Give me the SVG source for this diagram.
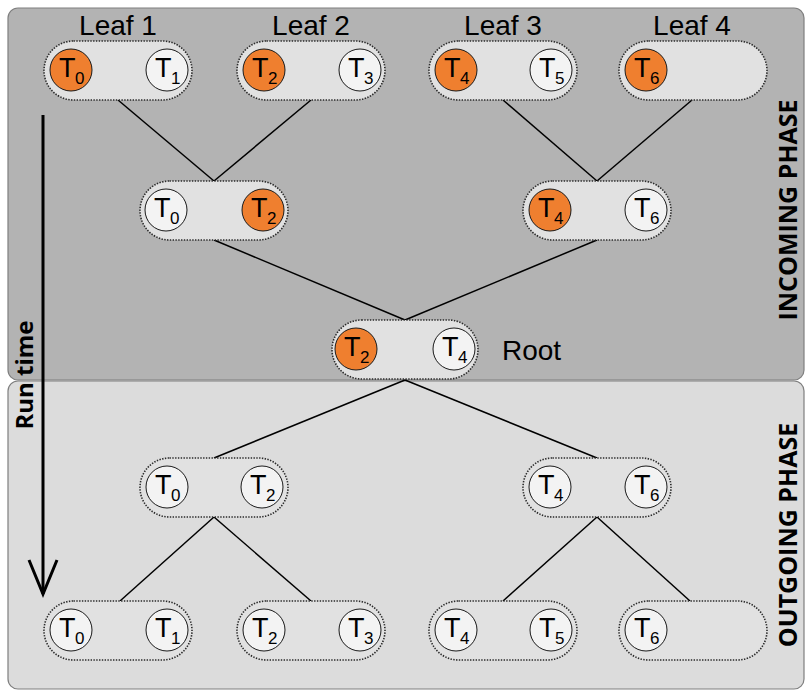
<svg xmlns="http://www.w3.org/2000/svg" width="806" height="691" viewBox="0 0 806 691">
<style>
.panel{stroke:#7f7f7f;stroke-width:1.2}
.pill{fill:#e1e1e1;stroke:#2a2a2a;stroke-width:1.6;stroke-dasharray:1.4 1.4}
.or{fill:#ef7f2f;stroke:#1a1a1a;stroke-width:1}
.wh{fill:#f3f3f3;stroke:#1a1a1a;stroke-width:1}
.t{font-family:"Liberation Sans",Arial,sans-serif;font-size:27px;fill:#000}
.s{font-family:"Liberation Sans",Arial,sans-serif;font-size:17px;fill:#000}
.lbl{font-family:"Liberation Sans",Arial,sans-serif;font-size:28px;fill:#000;text-anchor:middle}
.phase{font-family:"Open Sans","DejaVu Sans",sans-serif;font-size:25px;font-weight:bold;fill:#000;text-anchor:middle}
.con{stroke:#000;stroke-width:1.5;fill:none}
</style>
<rect class="panel" x="8" y="8" width="796" height="372" rx="10" fill="#b3b3b3"/>
<rect class="panel" x="8" y="381" width="796" height="308" rx="10" fill="#dcdcdc"/>

<g id="connectors">
<line class="con" x1="118" y1="100" x2="214" y2="181"/>
<line class="con" x1="311" y1="100" x2="214" y2="181"/>
<line class="con" x1="503" y1="100" x2="597" y2="181"/>
<line class="con" x1="692" y1="100" x2="597" y2="181"/>
<line class="con" x1="214" y1="240" x2="405" y2="320"/>
<line class="con" x1="597" y1="240" x2="405" y2="320"/>
<line class="con" x1="405" y1="380" x2="214" y2="458"/>
<line class="con" x1="405" y1="380" x2="597" y2="458"/>
<line class="con" x1="214" y1="517" x2="120" y2="601"/>
<line class="con" x1="214" y1="517" x2="311" y2="601"/>
<line class="con" x1="597" y1="517" x2="503" y2="601"/>
<line class="con" x1="597" y1="517" x2="690" y2="601"/>
</g>

<g id="labels">
<text class="lbl" x="118" y="35">Leaf 1</text>
<text class="lbl" x="311" y="35">Leaf 2</text>
<text class="lbl" x="503" y="35">Leaf 3</text>
<text class="lbl" x="692" y="35">Leaf 4</text>
<text x="502" y="360" style="font-family:'Liberation Sans',Arial,sans-serif;font-size:28px">Root</text>
<text class="phase" transform="translate(797,210) rotate(-90)">INCOMING PHASE</text>
<text class="phase" transform="translate(797,535) rotate(-90)">OUTGOING PHASE</text>
</g>

<g id="runtime">
<text class="phase" style="font-size:24px" transform="translate(33,375) rotate(-90)">Run time</text>
<line x1="43" y1="115" x2="43" y2="594" stroke="#000" stroke-width="3"/>
<polyline points="29,560 43,594 57,560" fill="none" stroke="#000" stroke-width="3"/>
</g>

<!-- Incoming leaves -->
<g id="in-leaf1">
<rect class="pill" x="44" y="41" width="148" height="59" rx="29.5"/>
<circle class="or" cx="71" cy="70" r="21"/><text class="t" x="59" y="77">T</text><text class="s" x="75" y="84">0</text>
<circle class="wh" cx="167" cy="70" r="21"/><text class="t" x="155" y="77">T</text><text class="s" x="171" y="84">1</text>
</g>
<g id="in-leaf2">
<rect class="pill" x="237" y="41" width="148" height="59" rx="29.5"/>
<circle class="or" cx="264" cy="70" r="21"/><text class="t" x="252" y="77">T</text><text class="s" x="268" y="84">2</text>
<circle class="wh" cx="360" cy="70" r="21"/><text class="t" x="348" y="77">T</text><text class="s" x="364" y="84">3</text>
</g>
<g id="in-leaf3">
<rect class="pill" x="429" y="41" width="148" height="59" rx="29.5"/>
<circle class="or" cx="456" cy="70" r="21"/><text class="t" x="444" y="77">T</text><text class="s" x="460" y="84">4</text>
<circle class="wh" cx="551" cy="70" r="21"/><text class="t" x="539" y="77">T</text><text class="s" x="555" y="84">5</text>
</g>
<g id="in-leaf4">
<rect class="pill" x="619" y="41" width="148" height="59" rx="29.5"/>
<circle class="or" cx="646" cy="70" r="21"/><text class="t" x="634" y="77">T</text><text class="s" x="650" y="84">6</text>
</g>

<!-- Incoming middle -->
<g id="in-mid1">
<rect class="pill" x="140" y="181" width="148" height="59" rx="29.5"/>
<circle class="wh" cx="166" cy="210" r="21"/><text class="t" x="154" y="217">T</text><text class="s" x="170" y="224">0</text>
<circle class="or" cx="263" cy="210" r="21"/><text class="t" x="251" y="217">T</text><text class="s" x="267" y="224">2</text>
</g>
<g id="in-mid2">
<rect class="pill" x="523" y="181" width="148" height="59" rx="29.5"/>
<circle class="or" cx="550" cy="210" r="21"/><text class="t" x="538" y="217">T</text><text class="s" x="554" y="224">4</text>
<circle class="wh" cx="646" cy="210" r="21"/><text class="t" x="634" y="217">T</text><text class="s" x="650" y="224">6</text>
</g>

<!-- Root -->
<g id="root">
<rect class="pill" x="332" y="320" width="146" height="59" rx="29.5"/>
<circle class="or" cx="356" cy="349" r="21"/><text class="t" x="344" y="356">T</text><text class="s" x="360" y="363">2</text>
<circle class="wh" cx="454" cy="349" r="21"/><text class="t" x="442" y="356">T</text><text class="s" x="458" y="363">4</text>
</g>

<!-- Outgoing middle -->
<g id="out-mid1">
<rect class="pill" x="140" y="458" width="148" height="59" rx="29.5"/>
<circle class="wh" cx="167" cy="487" r="21"/><text class="t" x="155" y="494">T</text><text class="s" x="171" y="501">0</text>
<circle class="wh" cx="262" cy="487" r="21"/><text class="t" x="250" y="494">T</text><text class="s" x="266" y="501">2</text>
</g>
<g id="out-mid2">
<rect class="pill" x="523" y="458" width="148" height="59" rx="29.5"/>
<circle class="wh" cx="550" cy="487" r="21"/><text class="t" x="538" y="494">T</text><text class="s" x="554" y="501">4</text>
<circle class="wh" cx="646" cy="487" r="21"/><text class="t" x="634" y="494">T</text><text class="s" x="650" y="501">6</text>
</g>

<!-- Outgoing leaves -->
<g id="out-leaf1">
<rect class="pill" x="44" y="601" width="148" height="59" rx="29.5"/>
<circle class="wh" cx="71" cy="630" r="21"/><text class="t" x="59" y="637">T</text><text class="s" x="75" y="644">0</text>
<circle class="wh" cx="167" cy="630" r="21"/><text class="t" x="155" y="637">T</text><text class="s" x="171" y="644">1</text>
</g>
<g id="out-leaf2">
<rect class="pill" x="237" y="601" width="148" height="59" rx="29.5"/>
<circle class="wh" cx="264" cy="630" r="21"/><text class="t" x="252" y="637">T</text><text class="s" x="268" y="644">2</text>
<circle class="wh" cx="360" cy="630" r="21"/><text class="t" x="348" y="637">T</text><text class="s" x="364" y="644">3</text>
</g>
<g id="out-leaf3">
<rect class="pill" x="429" y="601" width="148" height="59" rx="29.5"/>
<circle class="wh" cx="456" cy="630" r="21"/><text class="t" x="444" y="637">T</text><text class="s" x="460" y="644">4</text>
<circle class="wh" cx="551" cy="630" r="21"/><text class="t" x="539" y="637">T</text><text class="s" x="555" y="644">5</text>
</g>
<g id="out-leaf4">
<rect class="pill" x="619" y="601" width="148" height="59" rx="29.5"/>
<circle class="wh" cx="646" cy="630" r="21"/><text class="t" x="634" y="637">T</text><text class="s" x="650" y="644">6</text>
</g>
</svg>
